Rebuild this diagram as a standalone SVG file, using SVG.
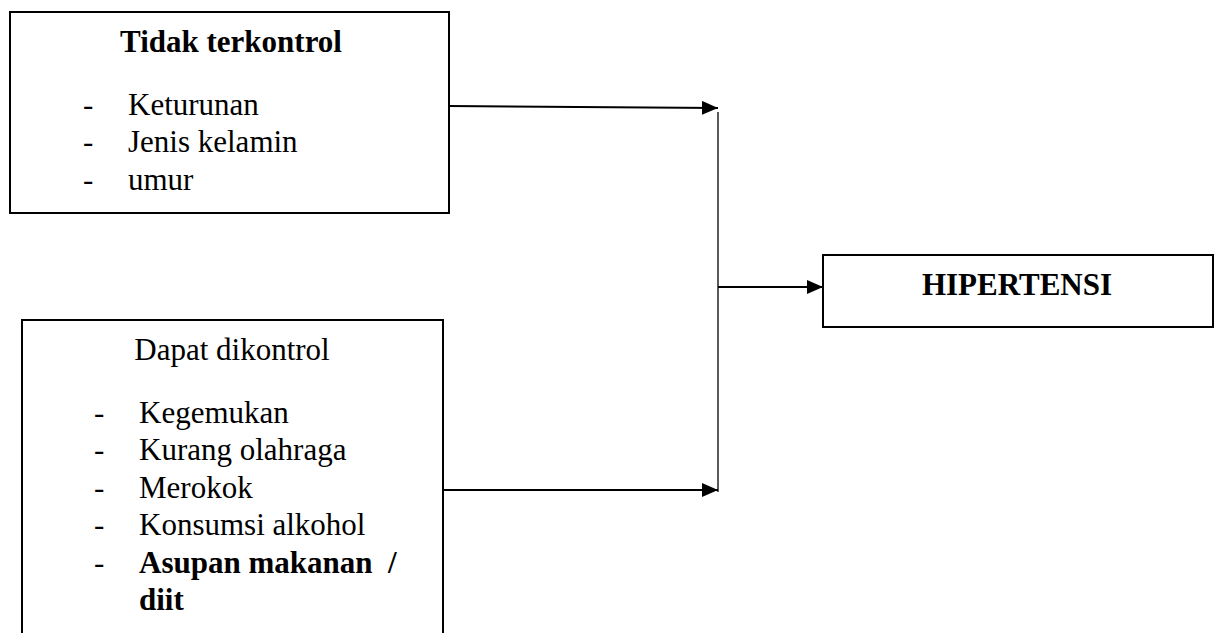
<svg xmlns="http://www.w3.org/2000/svg" width="1221" height="633" viewBox="0 0 1221 633">
<defs>
<style>
.box{fill:#fff;stroke:#000;stroke-width:2}
.t{font-family:"Liberation Serif","Times New Roman",serif;font-size:31px;fill:#000}
.b{font-weight:bold}
.ln{stroke:#000;fill:none}
</style>
<marker id="ah" viewBox="0 0 16 14" refX="16" refY="7" markerWidth="16" markerHeight="14" markerUnits="userSpaceOnUse" orient="auto">
<path d="M0,0 L16,7 L0,14 Z" fill="#000"/>
</marker>
</defs>
<rect width="1221" height="633" fill="#fff"/>
<g id="tidak-terkontrol">
<rect class="box" x="10" y="12" width="439" height="201"/>
<text class="t b" x="231" y="52" text-anchor="middle">Tidak terkontrol</text>
<text class="t" x="83" y="115">-</text><text class="t" x="128" y="115">Keturunan</text>
<text class="t" x="83" y="152">-</text><text class="t" x="128" y="152">Jenis kelamin</text>
<text class="t" x="83" y="190">-</text><text class="t" x="128" y="190">umur</text>
</g>
<g id="dapat-dikontrol">
<rect class="box" x="22" y="320" width="421" height="330"/>
<text class="t" x="232" y="360" text-anchor="middle">Dapat dikontrol</text>
<text class="t" x="94" y="423">-</text><text class="t" x="139" y="423">Kegemukan</text>
<text class="t" x="94" y="460">-</text><text class="t" x="139" y="460">Kurang olahraga</text>
<text class="t" x="94" y="498">-</text><text class="t" x="139" y="498">Merokok</text>
<text class="t" x="94" y="535">-</text><text class="t" x="139" y="535">Konsumsi alkohol</text>
<text class="t" x="94" y="573">-</text><text class="t b" x="139" y="573" xml:space="preserve">Asupan makanan  /</text>
<text class="t b" x="139" y="610">diit</text>
</g>
<g id="hipertensi">
<rect class="box" x="823" y="255" width="390" height="72"/>
<text class="t b" x="1017" y="295" text-anchor="middle">HIPERTENSI</text>
</g>
<g id="connectors">
<line class="ln" stroke-width="2" x1="449" y1="106" x2="718" y2="108" marker-end="url(#ah)"/>
<line class="ln" stroke-width="2" x1="444" y1="490" x2="718" y2="490" marker-end="url(#ah)"/>
<line class="ln" stroke-width="1.3" x1="718" y1="112" x2="718" y2="492"/>
<line class="ln" stroke-width="2" x1="718" y1="287" x2="823" y2="287" marker-end="url(#ah)"/>
</g>
</svg>
